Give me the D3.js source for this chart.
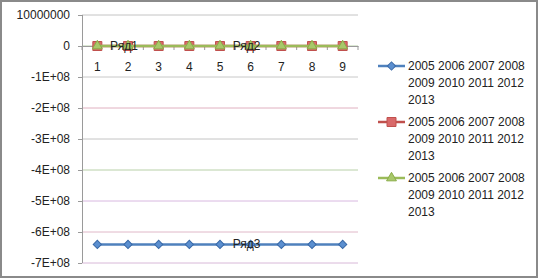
<!DOCTYPE html>
<html>
<head>
<meta charset="utf-8">
<script src="https://cdn.jsdelivr.net/npm/d3@7"></script>
<style>
  html, body { margin: 0; padding: 0; background: #fff; }
  svg { display: block; font-family: "Liberation Sans", Arial, sans-serif; }
</style>
</head>
<body>
<svg id="chart" width="539" height="279"></svg>
<script>
// ── Data ──────────────────────────────────────────────────────────────────────
const categories  = ['1', '2', '3', '4', '5', '6', '7', '8', '9'];
const seriesName  = '2005 2006 2007 2008 2009 2010 2011 2012 2013';
const blueValues  = [-6.4e8, -6.4e8, -6.4e8, -6.4e8, -6.4e8, -6.4e8, -6.4e8, -6.4e8, -6.4e8];
const redValues   = [0, 0, 0, 0, 0, 0, 0, 0, 0];
const greenValues = [0, 0, 0, 0, 0, 0, 0, 0, 0];
const yTickValues = [-7e8, -6e8, -5e8, -4e8, -3e8, -2e8, -1e8, 0, 1e8];
const yTickLabels = ['-7E+08', '-6E+08', '-5E+08', '-4E+08', '-3E+08', '-2E+08', '-1E+08', '0', '10000000'];
// data labels: [series, category index, text]
const pointLabels = [['red', 1, 'Ряд1'], ['green', 5, 'Ряд2'], ['blue', 5, 'Ряд3']];

// ── Layout ────────────────────────────────────────────────────────────────────
const plot = { left: 82, right: 358, top: 15, bottom: 263 };
const svg = d3.select('#chart');

// frame
svg.append('rect')
  .attr('x', 1).attr('y', 1).attr('width', 536).attr('height', 276)
  .attr('fill', '#fff').attr('stroke', '#8a8a8a').attr('stroke-width', 2);

const x = d3.scaleBand().domain(categories).range([plot.left, plot.right]);
const cx = c => x(c) + x.bandwidth() / 2;
const y = d3.scaleLinear().domain([-7e8, 1e8]).range([plot.bottom, plot.top]);

// grid
const gridTint = ['#d8b8d8', '#e0b8c8', '#d8b8e0', '#b8d0a8', '#c4c4c4', '#e0b0c0', '#c8c8c8', '#b8d0a8', '#c4c4c4'];
svg.append('g')
  .selectAll('line')
  .data(yTickValues)
  .join('line')
  .attr('x1', plot.left).attr('x2', plot.right)
  .attr('y1', d => y(d)).attr('y2', d => y(d))
  .attr('stroke', (d, i) => gridTint[i])
  .attr('stroke-width', 1);

// y axis
const yAxis = svg.append('g')
  .attr('transform', `translate(${plot.left},0)`)
  .call(d3.axisLeft(y).tickValues(yTickValues).tickFormat((d, i) => yTickLabels[i]).tickSize(4).tickPadding(8));
yAxis.select('.domain').attr('stroke', '#9a9a9a').attr('d', `M0.5,${plot.top}V${plot.bottom}`);
yAxis.selectAll('.tick line').attr('stroke', '#9a9a9a');
yAxis.selectAll('.tick text')
  .attr('font-family', '"Liberation Sans", Arial, sans-serif')
  .attr('font-size', 12).attr('fill', '#222');

// x axis at zero
const xAxis = svg.append('g')
  .attr('transform', `translate(0,${y(0)})`)
  .call(d3.axisBottom(x).tickSize(0).tickPadding(16));
xAxis.select('.domain').attr('stroke', '#9a9a9a');
xAxis.selectAll('.tick text')
  .attr('font-family', '"Liberation Sans", Arial, sans-serif')
  .attr('font-size', 12).attr('fill', '#222');
xAxis.selectAll('line.bound')
  .data(categories.map(c => x(c)).concat([plot.right]))
  .join('line')
  .attr('class', 'bound')
  .attr('x1', d => d).attr('x2', d => d)
  .attr('y1', 0).attr('y2', 4)
  .attr('stroke', '#9a9a9a');

// ── Series ────────────────────────────────────────────────────────────────────
const series = [
  { key: 'blue',  values: blueValues,  color: '#4f81bd', fill: '#5b8fd0', stroke: '#3a6aa8', shape: 'diamond' },
  { key: 'red',   values: redValues,   color: '#c0504d', fill: '#d9696a', stroke: '#c0504d', shape: 'square' },
  { key: 'green', values: greenValues, color: '#9bbb59', fill: '#a8c86a', stroke: '#8aac48', shape: 'triangle' }
];

const line = d3.line().x((d, i) => cx(categories[i])).y(d => y(d));

function marker(shape) {
  if (shape === 'diamond') return d3.symbol(d3.symbolSquare, 34)();
  if (shape === 'square')  return d3.symbol(d3.symbolSquare, 81)();
  return d3.symbol(d3.symbolTriangle, 42)();
}

series.forEach(s => {
  const g = svg.append('g');
  g.append('path')
    .datum(s.values)
    .attr('d', line)
    .attr('fill', 'none')
    .attr('stroke', s.color)
    .attr('stroke-width', 2.5);
  g.selectAll('path.m')
    .data(s.values)
    .join('path')
    .attr('class', 'm')
    .attr('d', marker(s.shape))
    .attr('transform', (d, i) => `translate(${cx(categories[i])},${y(d)})` + (s.shape === 'diamond' ? ' rotate(45)' : ''))
    .attr('fill', s.fill)
    .attr('stroke', s.stroke)
    .attr('stroke-width', 1);
});

// data labels
svg.append('g')
  .selectAll('text')
  .data(pointLabels)
  .join('text')
  .attr('x', d => cx(categories[d[1]]) - 4)
  .attr('y', d => y(series.find(s => s.key === d[0]).values[d[1]]) + 4)
  .attr('text-anchor', 'middle')
  .attr('font-size', 12)
  .attr('fill', '#222')
  .text(d => d[2]);

// ── Legend ────────────────────────────────────────────────────────────────────
const words = seriesName.split(' ');
const nameLines = [];
for (let i = 0; i < words.length; i += 4) nameLines.push(words.slice(i, i + 4).join(' '));

const legend = svg.append('g').attr('transform', 'translate(378,66)');
series.forEach((s, k) => {
  const g = legend.append('g').attr('transform', `translate(0,${k * 56})`);
  g.append('line')
    .attr('x1', 0).attr('x2', 27).attr('y1', 0).attr('y2', 0)
    .attr('stroke', s.color).attr('stroke-width', 2.5);
  g.append('path')
    .attr('d', marker(s.shape))
    .attr('transform', 'translate(13.5,0)' + (s.shape === 'diamond' ? ' rotate(45)' : ''))
    .attr('fill', s.fill).attr('stroke', s.stroke);
  g.selectAll('text')
    .data(nameLines)
    .join('text')
    .attr('x', 30)
    .attr('y', (d, i) => i * 17 + 4)
    .attr('font-size', 12)
    .attr('fill', '#222')
    .text(d => d);
});
</script>
</body>
</html>
